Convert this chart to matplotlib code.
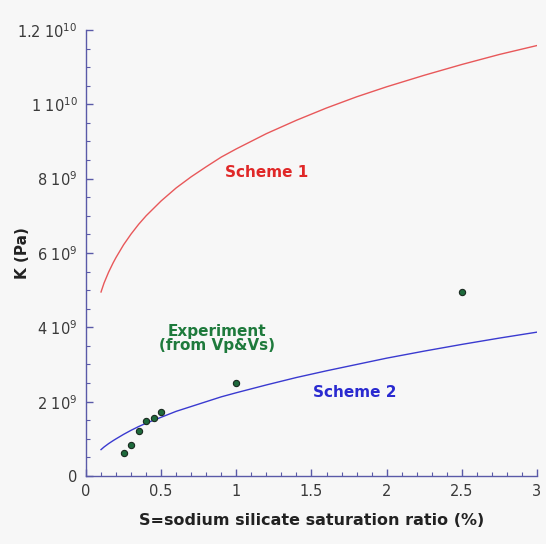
import matplotlib
matplotlib.use("Agg")
import matplotlib.pyplot as plt
from matplotlib.ticker import MultipleLocator, FixedLocator

plt.rcParams['font.family'] = ['DejaVu Sans']
plt.rcParams['mathtext.fontset'] = 'custom'
plt.rcParams['mathtext.rm'] = 'DejaVu Sans'
plt.rcParams['mathtext.default'] = 'regular'

# Scheme 1 curve
s1_x = [0.1, 0.12, 0.15, 0.18, 0.2, 0.25, 0.3, 0.35, 0.4, 0.5, 0.6, 0.7, 0.8, 0.9,
        1.0, 1.2, 1.4, 1.6, 1.8, 2.0, 2.25, 2.5, 2.75, 3.0]
s1_y = [4.95e9, 5.19e9, 5.48e9, 5.73e9, 5.88e9, 6.22e9, 6.51e9, 6.77e9, 7.0e9,
        7.40e9, 7.75e9, 8.05e9, 8.32e9, 8.58e9, 8.8e9, 9.21e9, 9.57e9, 9.9e9,
        10.2e9, 10.47e9, 10.78e9, 11.07e9, 11.34e9, 11.58e9]

# Scheme 2 curve
s2_x = [0.1, 0.12, 0.15, 0.18, 0.2, 0.25, 0.3, 0.35, 0.4, 0.5, 0.6, 0.7, 0.8, 0.9,
        1.0, 1.2, 1.4, 1.6, 1.8, 2.0, 2.25, 2.5, 2.75, 3.0]
s2_y = [0.71e9, 0.78e9, 0.87e9, 0.95e9, 1.0e9, 1.12e9, 1.23e9, 1.33e9, 1.42e9,
        1.58e9, 1.74e9, 1.87e9, 2.0e9, 2.13e9, 2.24e9, 2.45e9, 2.65e9, 2.83e9,
        3.0e9, 3.17e9, 3.36e9, 3.54e9, 3.71e9, 3.87e9]

# Experiment (from Vp & Vs)
exp_x = [0.25, 0.3, 0.35, 0.4, 0.45, 0.5, 1.0, 2.5]
exp_y = [0.63e9, 0.83e9, 1.22e9, 1.47e9, 1.57e9, 1.72e9, 2.5e9, 4.96e9]

y_ticks = [0, 2e9, 4e9, 6e9, 8e9, 1e10, 1.2e10]
y_tick_labels = ['0', '2 10$^{9}$', '4 10$^{9}$', '6 10$^{9}$', '8 10$^{9}$',
                 '1 10$^{10}$', '1.2 10$^{10}$']
x_ticks = [0, 0.5, 1, 1.5, 2, 2.5, 3]
x_tick_labels = ['0', '0.5', '1', '1.5', '2', '2.5', '3']

bg = '#f7f7f7'
axis_col = '#5a5aa8'

fig = plt.figure(figsize=(5.46, 5.44), dpi=100, facecolor=bg)
ax = fig.add_axes([0.1575, 0.125, 0.826, 0.82])
ax.set_facecolor(bg)

ax.plot(s1_x, s1_y, color='#e8585a', lw=1.0)
ax.plot(s2_x, s2_y, color='#3a3ad0', lw=1.0)
ax.plot(exp_x, exp_y, 'o', ms=4.5, mfc='#1e6a3c', mec='#1a2a20', mew=0.8)

ax.text(1.2, 8.16e9, 'Scheme 1', color='#e02828', fontsize=11, fontweight='bold',
        ha='center', va='center')
ax.text(1.79, 2.25e9, 'Scheme 2', color='#2a2ad0', fontsize=11, fontweight='bold',
        ha='center', va='center')
ax.text(0.87, 3.9e9, 'Experiment', color='#1e7a3c', fontsize=11, fontweight='bold',
        ha='center', va='center')
ax.text(0.87, 3.51e9, '(from Vp&Vs)', color='#1e7a3c', fontsize=11, fontweight='bold',
        ha='center', va='center')

ax.set_xlim(0, 3)
ax.set_ylim(0, 1.2e10)
ax.xaxis.set_major_locator(FixedLocator(x_ticks))
ax.set_xticklabels(x_tick_labels)
ax.yaxis.set_major_locator(FixedLocator(y_ticks))
ax.set_yticklabels(y_tick_labels)
ax.xaxis.set_minor_locator(MultipleLocator(0.1))
ax.yaxis.set_minor_locator(MultipleLocator(5e8))

for side in ['top', 'right']:
    ax.spines[side].set_visible(False)
for side in ['left', 'bottom']:
    ax.spines[side].set_color(axis_col)
    ax.spines[side].set_linewidth(1.0)

ax.tick_params(which='major', direction='in', length=5, width=1, color=axis_col,
               labelsize=10.5, labelcolor='#3a3a3a', pad=6)
ax.tick_params(which='minor', direction='in', length=3, width=0.8, color=axis_col)

ax.set_xlabel('S=sodium silicate saturation ratio (%)', fontsize=11.5,
              fontweight='bold', color='#222222', labelpad=10)
ax.set_ylabel('K (Pa)', fontsize=11, fontweight='bold', color='#222222', va='center')
ax.yaxis.set_label_coords(-0.14, 0.5)

fig.savefig('out.png', dpi=100, facecolor=bg)
